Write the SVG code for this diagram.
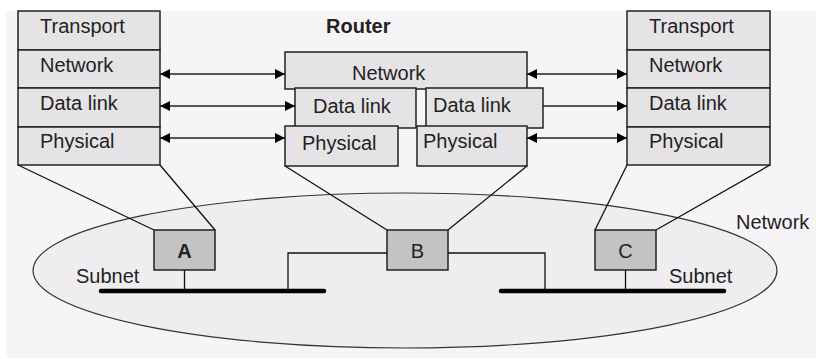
<svg xmlns="http://www.w3.org/2000/svg" width="816" height="359" viewBox="0 0 816 359">
<style>
.t{font-family:"Liberation Sans",Arial,sans-serif;font-size:20px;fill:#222}
.b{font-weight:bold}
.layer{fill:#e6e3e6;stroke:#222;stroke-width:1.5}
.host{fill:#c4c2c4;stroke:#222;stroke-width:1.5}
.ln{stroke:#111;stroke-width:1.3;fill:none}
.ar{stroke:#222;stroke-width:1.6;fill:none;marker-end:url(#ah)}
.ar2{stroke:#222;stroke-width:1.6;fill:none;marker-end:url(#ah);marker-start:url(#ah)}
.bus{stroke:#000;stroke-width:4.5;stroke-linecap:round}
</style>
<defs>
<marker id="ah" viewBox="0 0 10 10" refX="10" refY="5" markerWidth="10" markerHeight="11" markerUnits="userSpaceOnUse" orient="auto-start-reverse">
<path d="M0,0 L10,5 L0,10 Z" fill="#000"/>
</marker>
</defs>
<rect x="6" y="11" width="810" height="347" fill="#f7f4f7"/>
<g id="network">
<ellipse cx="405" cy="270.5" rx="372" ry="77.5" fill="#efedef" stroke="#333" stroke-width="1.2"/>
<text class="t" x="736" y="229">Network</text>
</g>
<g id="left-stack">
<rect class="layer" x="18" y="11" width="142" height="39"/>
<rect class="layer" x="18" y="50" width="142" height="38"/>
<rect class="layer" x="18" y="88" width="142" height="39"/>
<rect class="layer" x="18" y="127" width="142" height="38"/>
<text class="t" x="40" y="33">Transport</text>
<text class="t" x="40" y="72">Network</text>
<text class="t" x="40" y="110">Data link</text>
<text class="t" x="40" y="148">Physical</text>
</g>
<g id="right-stack">
<rect class="layer" x="627" y="11" width="143" height="39"/>
<rect class="layer" x="627" y="50" width="143" height="38"/>
<rect class="layer" x="627" y="88" width="143" height="39"/>
<rect class="layer" x="627" y="127" width="143" height="38"/>
<text class="t" x="649" y="33">Transport</text>
<text class="t" x="649" y="72">Network</text>
<text class="t" x="649" y="110">Data link</text>
<text class="t" x="649" y="148">Physical</text>
</g>
<g id="router">
<text class="t b" x="326" y="33">Router</text>
<rect class="layer" x="285" y="52" width="242" height="37"/>
<text class="t" x="352" y="80">Network</text>
<rect class="layer" x="295" y="88" width="121" height="40"/>
<text class="t" x="313" y="113">Data link</text>
<rect class="layer" x="426" y="88" width="117" height="40"/>
<text class="t" x="433" y="112">Data link</text>
<rect class="layer" x="285" y="126" width="113" height="40"/>
<text class="t" x="302" y="150">Physical</text>
<rect class="layer" x="417" y="126" width="110" height="40"/>
<text class="t" x="423" y="148">Physical</text>
</g>
<g id="host-a">
<rect class="host" x="154" y="230" width="61" height="40"/>
<text class="t b" x="184.5" y="258" text-anchor="middle">A</text>
</g>
<g id="host-b">
<rect class="host" x="387" y="230" width="61" height="40"/>
<text class="t" x="417.5" y="258" text-anchor="middle">B</text>
</g>
<g id="host-c">
<rect class="host" x="595" y="230" width="61" height="40"/>
<text class="t" x="625.5" y="258" text-anchor="middle">C</text>
</g>
<g id="subnets">
<line class="bus" x1="101" y1="291" x2="324" y2="291"/>
<line class="bus" x1="501" y1="291" x2="724" y2="291"/>
<text class="t" x="76" y="283">Subnet</text>
<text class="t" x="669" y="283">Subnet</text>
</g>
<g id="connectors">
<line class="ar2" x1="160" y1="74" x2="285" y2="74"/>
<line class="ar2" x1="160" y1="106" x2="295" y2="106"/>
<line class="ar2" x1="160" y1="138" x2="285" y2="138"/>
<line class="ar2" x1="527" y1="74" x2="627" y2="74"/>
<line class="ar" x1="543" y1="106" x2="627" y2="106"/>
<line class="ar2" x1="527" y1="138" x2="627" y2="138"/>
<line class="ln" x1="18" y1="165" x2="154" y2="230"/>
<line class="ln" x1="160" y1="165" x2="215" y2="230"/>
<line class="ln" x1="285" y1="166" x2="387" y2="230"/>
<line class="ln" x1="527" y1="166" x2="448" y2="230"/>
<line class="ln" x1="627" y1="165" x2="595" y2="230"/>
<line class="ln" x1="770" y1="165" x2="656" y2="230"/>
<line class="ln" x1="184.5" y1="270" x2="184.5" y2="291"/>
<polyline class="ln" points="387,253 288,253 288,291"/>
<polyline class="ln" points="448,253 545,253 545,291"/>
<line class="ln" x1="625.5" y1="270" x2="625.5" y2="291"/>
</g>
</svg>
